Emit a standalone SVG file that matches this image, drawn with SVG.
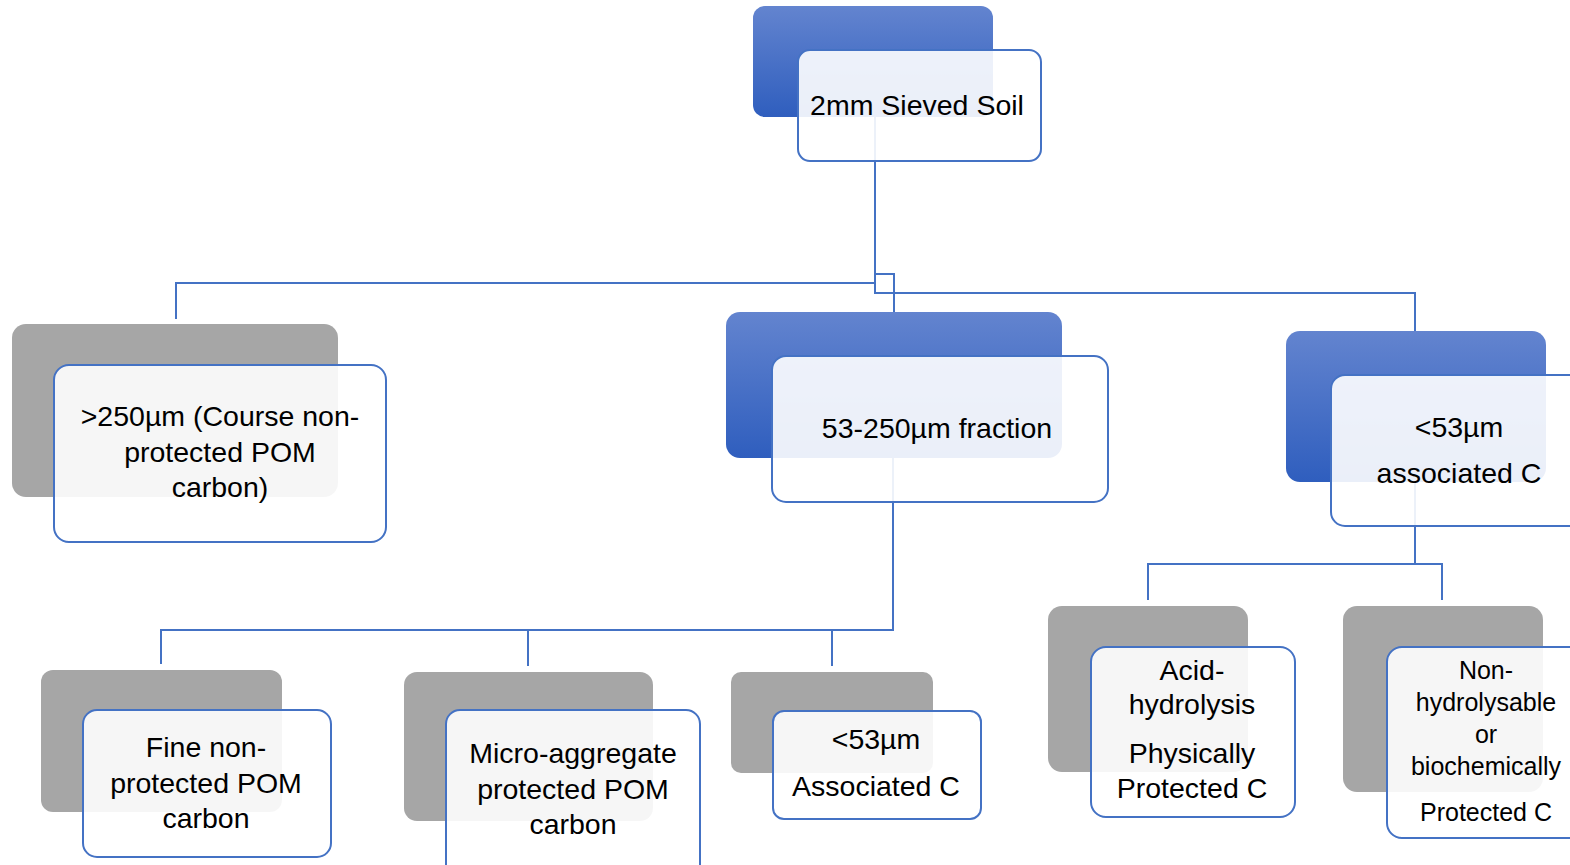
<svg xmlns="http://www.w3.org/2000/svg" width="1570" height="865" viewBox="0 0 1570 865">
<defs>
<linearGradient id="blueGrad" x1="0" y1="0" x2="0" y2="1">
<stop offset="0" stop-color="#6384CF"/>
<stop offset="1" stop-color="#2F5EBE"/>
</linearGradient>
</defs>
<style>
.backBlue{fill:url(#blueGrad);}
.backGray{fill:#A6A6A6;}
.front{fill:#FFFFFF;fill-opacity:0.9;stroke:#4472C4;stroke-width:2;}
.conn{fill:none;stroke:#4472C4;stroke-width:2;}
text{font-family:"Liberation Sans",Arial,sans-serif;font-size:28.5px;fill:#000000;text-anchor:middle;}
.small{font-size:25px;}
</style>
<rect width="1570" height="865" fill="#FFFFFF"/>
<g id="connectors">
<path class="conn" d="M875,117 V283 H176 V319"/>
<path class="conn" d="M875,117 V274 H894 V312"/>
<path class="conn" d="M875,117 V293 H1415 V331"/>
<path class="conn" d="M893,458 V630 H161 V664"/>
<path class="conn" d="M893,458 V630 H528 V666"/>
<path class="conn" d="M893,458 V630 H832 V666"/>
<path class="conn" d="M1415,482 V564 H1148 V600"/>
<path class="conn" d="M1415,482 V564 H1442 V600"/>
</g>
<g id="node-sieved-soil">
<rect class="backBlue" x="753" y="6" width="240" height="111" rx="12"/>
<rect class="front" x="798" y="50" width="243" height="111" rx="12"/>
<text x="917" y="115">2mm Sieved Soil</text>
</g>
<g id="node-250">
<rect class="backGray" x="12" y="324" width="326" height="173" rx="14"/>
<rect class="front" x="54" y="365" width="332" height="177" rx="15"/>
<text x="220" y="426">&gt;250µm (Course non-</text>
<text x="220" y="462">protected POM</text>
<text x="220" y="497">carbon)</text>
</g>
<g id="node-53-250">
<rect class="backBlue" x="726" y="312" width="336" height="146" rx="14"/>
<rect class="front" x="772" y="356" width="336" height="146" rx="14"/>
<text x="937" y="438">53-250µm fraction</text>
</g>
<g id="node-lt53">
<rect class="backBlue" x="1286" y="331" width="260" height="151" rx="14"/>
<rect class="front" x="1331" y="375" width="280" height="151" rx="14"/>
<text x="1459" y="437">&lt;53µm</text>
<text x="1459" y="483">associated C</text>
</g>
<g id="node-fine">
<rect class="backGray" x="41" y="670" width="241" height="142" rx="12"/>
<rect class="front" x="83" y="710" width="248" height="147" rx="14"/>
<text x="206" y="757">Fine non-</text>
<text x="206" y="793">protected POM</text>
<text x="206" y="828">carbon</text>
</g>
<g id="node-micro">
<rect class="backGray" x="404" y="672" width="249" height="149" rx="13"/>
<rect class="front" x="446" y="710" width="254" height="170" rx="14"/>
<text x="573" y="763">Micro-aggregate</text>
<text x="573" y="799">protected POM</text>
<text x="573" y="834">carbon</text>
</g>
<g id="node-lt53-assoc">
<rect class="backGray" x="731" y="672" width="202" height="101" rx="10"/>
<rect class="front" x="773" y="711" width="208" height="108" rx="11"/>
<text x="876" y="749">&lt;53µm</text>
<text x="876" y="796">Associated C</text>
</g>
<g id="node-acid">
<rect class="backGray" x="1048" y="606" width="200" height="166" rx="14"/>
<rect class="front" x="1091" y="647" width="204" height="170" rx="15"/>
<text x="1192" y="680">Acid-</text>
<text x="1192" y="714">hydrolysis</text>
<text x="1192" y="763">Physically</text>
<text x="1192" y="798">Protected C</text>
</g>
<g id="node-nonhyd">
<rect class="backGray" x="1343" y="606" width="200" height="186" rx="14"/>
<rect class="front" x="1387" y="647" width="220" height="191" rx="15"/>
<text class="small" x="1486" y="679">Non-</text>
<text class="small" x="1486" y="711">hydrolysable</text>
<text class="small" x="1486" y="743">or</text>
<text class="small" x="1486" y="775">biochemically</text>
<text class="small" x="1486" y="821">Protected C</text>
</g>
</svg>
